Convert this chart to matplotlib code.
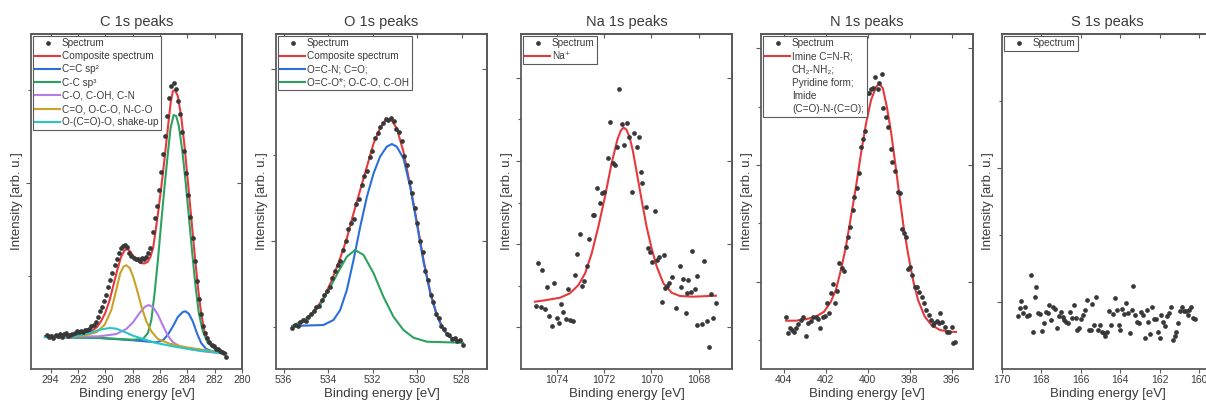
import numpy as np
import matplotlib.pyplot as plt
from matplotlib.lines import Line2D

plt.rcParams['font.family'] = ['Liberation Sans', 'DejaVu Sans']

# intensities are in arbitrary units (0..335 spans the plot height)

# ---------------- C 1s ----------------
c_spec = [34, 32, 33, 31, 34, 33, 35, 32, 35, 36,
          33, 34, 35, 36, 38, 37, 38, 37, 39, 39,
          40, 43, 44, 47, 52, 58, 62, 68, 74, 82,
          89, 96, 104, 110, 116, 121, 123, 124, 122, 116,
          113, 111, 110, 110, 108, 111, 110, 112, 116, 121,
          137, 151, 163, 179, 197, 215, 233, 253, 271, 283,
          286, 280, 268, 255, 237, 218, 196, 174, 152, 131,
          108, 88, 70, 55, 43, 36, 31, 27, 24, 23,
          20, 20, 18, 17, 16, 12]
c_spec_e = np.linspace(294.25, 281.15, len(c_spec))

c_comp_e = [294.40, 293.5, 292.5, 291.5, 291.0, 290.6, 290.3, 290.0, 289.7, 289.4,
            289.1, 288.85, 288.6, 288.4, 288.2, 288.0, 287.7, 287.4, 287.15, 286.9,
            286.7, 286.5, 286.3, 286.1, 285.9, 285.7, 285.5, 285.35, 285.2, 285.05,
            284.9, 284.69, 284.45, 284.20, 283.96, 283.72, 283.47, 283.23, 282.99, 282.75,
            282.38, 281.77, 281.17]
c_comp_i = [33, 33.5, 34.5, 35.5, 38, 42, 48, 56, 68, 84,
            100, 112, 118.5, 120, 118, 114, 109, 106, 105.5, 107,
            112, 121, 140, 160, 182, 206, 231, 250, 268, 278,
            279, 272.7, 252.7, 222.7, 187.7, 152.7, 116, 82.7, 56, 37.7,
            26, 19.3, 15.3]

c_sp2_e = [294.41, 290.4, 287.97, 286.27, 285.78, 285.42, 285.05, 284.69, 284.33, 284.13,
           283.89, 283.6, 283.30, 282.99, 282.62, 282.02, 281.17]
c_sp2_i = [32, 31, 28.7, 26.7, 28.7, 34.3, 42.7, 52, 57, 57.7,
           55.3, 47.7, 36, 26, 20, 17, 15.3]

c_sp3_e = [294.41, 290.40, 287.97, 287.24, 286.88, 286.63, 286.39, 286.15, 285.91, 285.66,
           285.42, 285.22, 285.0, 284.81, 284.62, 284.37, 284.13, 283.89, 283.64, 283.40,
           283.16, 282.87, 282.50, 281.89, 281.17]
c_sp3_i = [32, 31, 29.3, 30, 36, 49, 76, 109, 146, 183,
           216, 241, 254, 253, 243, 219, 188, 153, 116, 83,
           56, 38, 26, 19, 15.3]

c_co_e = [294.41, 290.40, 289.19, 288.46, 287.97, 287.49, 287.12, 286.83, 286.51, 286.15,
          285.78, 285.42, 285.05, 284.57, 283.84, 282.87, 281.17]
c_co_i = [32, 32.7, 35, 40, 46.7, 56, 62, 64, 62, 54.3,
          43.3, 33.3, 26.7, 22.7, 20, 17.7, 15.3]

c_cdo_e = [294.41, 291.62, 290.65, 290.04, 289.55, 289.19, 288.90, 288.65, 288.46, 288.21,
           287.97, 287.68, 287.36, 287.0, 286.63, 286.15, 285.30, 284.08, 282.62, 281.17]
c_cdo_i = [32, 33.3, 36.7, 44.3, 59.3, 79.3, 96, 102.7, 103.7, 101,
           92.7, 79.3, 62.7, 47.7, 37.7, 30, 25.3, 21.7, 18.7, 15.3]

c_shake_e = [294.41, 292.10, 291.13, 290.40, 289.67, 289.19, 288.58, 287.97, 287.24, 286.27,
             285.05, 283.60, 282.14, 281.17]
c_shake_i = [32, 33.3, 36, 39.3, 41, 40.3, 37, 33.3, 30, 26,
             22.7, 19.3, 17, 15.3]

# ---------------- O 1s ----------------
o_spec = [41, 44, 43, 47, 49, 48, 52, 55, 58, 62,
          63, 69, 74, 78, 82, 91, 98, 104, 108, 119,
          128, 140, 146, 150, 165, 170, 184, 193, 198, 212,
          218, 231, 236, 242, 246, 250, 249, 251, 248, 240,
          237, 228, 213, 204, 187, 176, 161, 146, 128, 117,
          98, 89, 74, 67, 55, 51, 43, 40, 35, 34,
          30, 31, 28, 29, 24]
o_spec_e = np.linspace(535.6, 527.96, len(o_spec))

o_comp_e = [535.6, 535.1, 534.65, 534.21, 533.83, 533.46, 533.16, 532.86, 532.56, 532.26,
            531.96, 531.67, 531.44, 531.29, 531.14, 530.92, 530.62, 530.32, 530.02, 529.72,
            529.42, 529.12, 528.83, 528.53, 528.23, 527.96]
o_comp_i = [43, 48.3, 57.3, 70.7, 89, 110.7, 130.7, 155.7, 179, 202.3,
            225.7, 240.7, 248.3, 249.7, 248.3, 240.7, 217.3, 184, 147.3, 109,
            77.3, 54, 39.7, 32.3, 29, 26.3]

o_ocn_e = [535.6, 534.21, 533.76, 533.46, 533.16, 532.86, 532.56, 532.26, 531.96, 531.67,
           531.37, 531.14, 530.92, 530.62, 530.32, 530.02, 529.72, 529.42, 529.12, 528.83,
           528.53, 528.23, 527.96]
o_ocn_i = [43, 44, 49, 59, 79, 109, 142.3, 172.3, 195.7, 212.3,
           222.3, 225, 222.3, 210.7, 182.3, 145.7, 107.3, 76.3, 53.3, 39,
           31.7, 28.3, 25.7]

o_oco_e = [535.6, 534.95, 534.36, 533.91, 533.46, 533.16, 532.79, 532.41, 531.96, 531.52,
           531.07, 530.62, 530.17, 529.57, 528.68, 527.96]
o_oco_i = [43, 50.7, 64, 81.7, 100.7, 112.3, 119, 114, 95.7, 72.3,
           52.3, 39, 31.3, 27.3, 26.7, 26.3]

# ---------------- Na 1s ----------------
na_spec_e = [1074.87, 1074.79, 1074.68, 1074.61, 1074.49, 1074.41, 1074.31, 1074.21, 1074.11, 1074.00,
             1073.90, 1073.80, 1073.72, 1073.61, 1073.51, 1073.44, 1073.32, 1073.21, 1073.13, 1073.01,
             1072.92, 1072.83, 1072.73, 1072.62, 1072.48, 1072.41, 1072.28, 1072.17, 1072.08, 1072.00,
             1071.85, 1071.75, 1071.63, 1071.55, 1071.44, 1071.35, 1071.24, 1071.15, 1071.04, 1070.94,
             1070.83, 1070.73, 1070.62, 1070.54, 1070.42, 1070.39, 1070.24, 1070.15, 1070.06, 1069.96,
             1069.86, 1069.77, 1069.68, 1069.56, 1069.45, 1069.41, 1069.32, 1069.25, 1069.14, 1068.97,
             1068.79, 1068.75, 1068.65, 1068.55, 1068.51, 1068.44, 1068.34, 1068.27, 1068.15, 1068.08,
             1068.06, 1067.87, 1067.77, 1067.66, 1067.58, 1067.48, 1067.38, 1067.27]
na_spec_i = [63, 105.7, 61.7, 99, 59.7, 82.3, 53.3, 43.3, 86.3, 50.7,
             45.7, 65, 57.3, 50.3, 79.7, 49, 48.3, 94, 115, 134.7,
             83, 88.3, 103.3, 129.7, 154, 154, 180.7, 165.7, 175.7, 176.7,
             211.3, 247.3, 205.7, 204, 221.7, 279.7, 245, 224, 245.7, 232.3,
             177.3, 236.3, 221.7, 232.3, 197.3, 186.3, 162.3, 120.7, 117.3, 107.3,
             158.3, 109, 112.3, 67.3, 114, 80.7, 83, 85.7, 91.7, 60.7,
             103.3, 81.7, 89.7, 56.3, 75.7, 89, 76.7, 118.3, 80, 93,
             44, 45, 108.3, 48.3, 22.3, 75, 51.3, 65.7]

na_fit_e = [1074.92, 1074.42, 1073.86, 1073.44, 1073.08, 1072.80, 1072.52, 1072.24, 1071.96, 1071.68,
            1071.44, 1071.30, 1071.18, 1071.06, 1070.92, 1070.78, 1070.62, 1070.41, 1070.20, 1069.99,
            1069.77, 1069.49, 1069.14, 1068.79, 1068.23, 1067.27]
na_fit_i = [67.3, 69, 71.3, 75.7, 84, 95.7, 115.7, 142.3, 172.3, 205.7,
            229, 238, 241.5, 239.5, 232, 218, 197, 169, 142.3, 120.7,
            102.3, 85.7, 76.3, 73, 72.3, 73.3]

# ---------------- N 1s ----------------
n_spec_e = [403.89, 403.79, 403.70, 403.60, 403.50, 403.41, 403.31, 403.20, 403.09, 402.96,
            402.83, 402.72, 402.61, 402.48, 402.35, 402.26, 402.13, 402.03, 401.95, 401.86,
            401.76, 401.65, 401.55, 401.46, 401.36, 401.25, 401.14, 401.04, 400.93, 400.83,
            400.72, 400.64, 400.53, 400.40, 400.34, 400.24, 400.14, 400.05, 399.95, 399.84,
            399.73, 399.63, 399.52, 399.44, 399.34, 399.25, 399.12, 399.01, 398.90, 398.82,
            398.70, 398.58, 398.46, 398.38, 398.29, 398.19, 398.08, 397.98, 397.89, 397.76,
            397.65, 397.54, 397.42, 397.33, 397.20, 397.09, 396.99, 396.91, 396.82, 396.72,
            396.61, 396.53, 396.45, 396.32, 396.21, 396.11, 396.00, 395.92, 395.82]
n_spec_i = [52.3, 36.3, 40.7, 39, 37.3, 40.7, 45, 49, 51.7, 33,
            46.3, 48.3, 51.7, 52.3, 49.7, 40.7, 52.3, 53, 66.3, 56.3,
            75.7, 85, 65.7, 78.3, 105.7, 100.7, 98.3, 121.7, 131.7, 142.3,
            159, 172.3, 180.7, 196.3, 222.3, 229.7, 238.3, 275.7, 276.3, 279.7,
            280.7, 291.7, 279.7, 285.7, 295, 260.7, 251.7, 241.7, 219.7, 207.3,
            198.3, 177.3, 175.7, 139.7, 135.7, 131.7, 99.7, 102.3, 94, 82.3,
            81.7, 77.3, 72.3, 66.3, 59, 54, 49, 44, 46.3, 48.3,
            46.3, 56.3, 47.3, 42.3, 37, 37.3, 42.3, 26.3, 27.3]

n_fit_e = [403.89, 403.44, 402.96, 402.48, 402.08, 401.76, 401.52, 401.28, 401.04, 400.80,
           400.56, 400.32, 400.08, 399.84, 399.60, 399.44, 399.28, 399.09, 398.88, 398.69,
           398.48, 398.29, 398.08, 397.84, 397.60, 397.28, 396.96, 396.56, 396.08, 395.79]
n_fit_i = [48.3, 48.3, 49.7, 52.3, 57.3, 67.3, 79, 99, 122.3, 152.3,
           182.3, 215.7, 245.7, 269, 282.3, 285, 280.7, 262.3, 235.7, 205.7,
           172.3, 142.3, 115.7, 89, 69, 52.3, 44, 39, 37.3, 37]

# ---------------- S 1s ----------------
s_spec = [53, 60.7, 68, 55.7, 61.7, 53, 54, 94, 37.3, 72.3,
          81.7, 55.7, 55, 38.3, 46.3, 56.7, 56.3, 64, 49, 61.7,
          60.3, 40.7, 53, 57.3, 52.3, 49, 47.3, 45.7, 57.3, 50.7,
          64, 50.7, 39, 40.7, 49.7, 54, 59, 69, 39, 39,
          65, 44, 71.7, 39, 44, 37.3, 36.3, 33, 37.3, 58.3,
          44, 54.7, 70.7, 59, 44, 39, 59.7, 54.7, 66.3, 55.7,
          35.7, 59, 83, 54, 47.3, 45.7, 57.3, 54, 31.3, 59,
          47.3, 35, 61.7, 49.7, 49.7, 37.3, 31.3, 54, 47.3, 43,
          53, 55.7, 61.7, 29, 33, 37.3, 46.3, 58.3, 62.3, 58.3,
          58, 54, 59, 61.7, 50.7, 49.7]
s_spec_e = np.linspace(169.2, 160.2, len(s_spec))

RED = '#e8383d'
BLUE = '#2a6fdb'
GREEN = '#2ca25f'
PURPLE = '#b57be6'
GOLD = '#c9a227'
CYAN = '#26c6c6'
DOT = '#383838'
EDGE = '#5a5a5a'
TEXT = '#3a3a3a'

W, H = 1206, 405
fig = plt.figure(figsize=(W / 100, H / 100), dpi=100)


def make_axes(left, width):
    return fig.add_axes([left / W, 36 / H, width / W, 335 / H])


def style(ax, title, xlim, xticks, ymajor, yminor):
    ax.set_xlim(*xlim)
    ax.set_ylim(0, 335)
    ax.set_xticks(xticks)
    ax.set_xticklabels([str(t) for t in xticks])
    ax.set_yticks(ymajor)
    ax.set_yticks(yminor, minor=True)
    ax.tick_params(axis='x', direction='out', length=3, width=0.8, color=EDGE,
                   pad=1.5, labelsize=7.5, labelcolor=TEXT)
    ax.tick_params(axis='y', which='major', direction='out', length=3.5, width=0.8,
                   color=EDGE, labelleft=False)
    ax.tick_params(axis='y', which='minor', direction='out', length=2, width=0.8,
                   color=EDGE)
    for s in ax.spines.values():
        s.set_color(EDGE)
        s.set_linewidth(1.3)
    top = ax.secondary_xaxis('top')
    top.set_xticks(xticks)
    top.tick_params(direction='in', length=3, width=0.8, color=EDGE, labeltop=False)
    top.spines['top'].set_color(EDGE)
    top.spines['top'].set_linewidth(1.3)
    right = ax.secondary_yaxis('right')
    right.set_yticks(ymajor)
    right.tick_params(direction='in', length=3.5, width=0.8, color=EDGE, labelright=False)
    right.spines['right'].set_color(EDGE)
    right.spines['right'].set_linewidth(1.3)
    ax.set_title(title, fontsize=10.5, color=TEXT, pad=6)
    ax.set_xlabel('Binding energy [eV]', fontsize=9.5, color=TEXT)
    ax.xaxis.set_label_coords(0.5, -0.056)
    ax.set_ylabel('Intensity [arb. u.]', fontsize=9.5, color=TEXT)
    ax.yaxis.set_label_coords(-0.04, 0.5)


def spectrum(ax, e, i):
    return ax.plot(e, i, 'o', ms=3.4, color=DOT, mec='none', zorder=3)[0]


def legend(ax, handles, labels):
    leg = ax.legend(handles, labels, loc='upper left', bbox_to_anchor=(0, 1),
                    fontsize=7.2, frameon=True, fancybox=False, framealpha=1,
                    edgecolor=EDGE, borderpad=0.25, borderaxespad=0.15,
                    handlelength=2.5, handletextpad=0.2, labelspacing=0.32)
    leg.get_frame().set_linewidth(0.8)
    for t in leg.get_texts():
        t.set_color(TEXT)


# C 1s
ax = make_axes(31, 211)
lc = ax.plot(c_comp_e, c_comp_i, color=RED, lw=1.5)[0]
l1 = ax.plot(c_sp2_e, c_sp2_i, color=BLUE, lw=1.5)[0]
l2 = ax.plot(c_sp3_e, c_sp3_i, color=GREEN, lw=1.5)[0]
l3 = ax.plot(c_co_e, c_co_i, color=PURPLE, lw=1.5)[0]
l4 = ax.plot(c_cdo_e, c_cdo_i, color=GOLD, lw=1.5)[0]
l5 = ax.plot(c_shake_e, c_shake_i, color=CYAN, lw=1.5)[0]
sp = spectrum(ax, c_spec_e, c_spec)
style(ax, 'C 1s peaks', (295.43, 280), list(range(294, 279, -2)), [186], [93, 279])
legend(ax, [sp, lc, l1, l2, l3, l4, l5],
       ['Spectrum', 'Composite spectrum', 'C=C sp²', 'C-C sp³',
        'C-O, C-OH, C-N', 'C=O, O-C-O, N-C-O', 'O-(C=O)-O, shake-up'])

# O 1s
ax = make_axes(276, 211)
lc = ax.plot(o_comp_e, o_comp_i, color=RED, lw=1.5)[0]
l1 = ax.plot(o_ocn_e, o_ocn_i, color=BLUE, lw=1.5)[0]
l2 = ax.plot(o_oco_e, o_oco_i, color=GREEN, lw=1.5)[0]
sp = spectrum(ax, o_spec_e, o_spec)
style(ax, 'O 1s peaks', (536.34, 526.87), [536, 534, 532, 530, 528], [128, 300], [42, 214])
legend(ax, [sp, lc, l1, l2],
       ['Spectrum', 'Composite spectrum', 'O=C-N; C=O;', 'O=C-O*; O-C-O, C-OH'])

# Na 1s
ax = make_axes(521, 211)
lc = ax.plot(na_fit_e, na_fit_i, color=RED, lw=1.5)[0]
sp = spectrum(ax, na_spec_e, na_spec_i)
style(ax, 'Na 1s peaks', (1075.51, 1066.59), [1074, 1072, 1070, 1068],
      [42, 125, 208, 291], [83, 166, 250])
legend(ax, [sp, lc], ['Spectrum', 'Na⁺'])

# N 1s
ax = make_axes(761, 212)
lc = ax.plot(n_fit_e, n_fit_i, color=RED, lw=1.5)[0]
sp = spectrum(ax, n_spec_e, n_spec_i)
style(ax, 'N 1s peaks', (405.09, 394.98), [404, 402, 400, 398, 396],
      [87, 204, 321], [29, 146, 262])
blank = Line2D([], [], linestyle='none')
legend(ax, [sp, lc, blank, blank, blank, blank],
       ['Spectrum', 'Imine C=N-R;', 'CH₂-NH₂;', 'Pyridine form;', 'Imide',
        '(C=O)-N-(C=O);'])

# S 1s
ax = make_axes(1002, 211)
sp = spectrum(ax, s_spec_e, s_spec)
style(ax, 'S 1s peaks', (170, 159.29), [170, 168, 166, 164, 162, 160], [67, 201], [134, 268])
legend(ax, [sp], ['Spectrum'])

fig.savefig('out.png', dpi=100)
